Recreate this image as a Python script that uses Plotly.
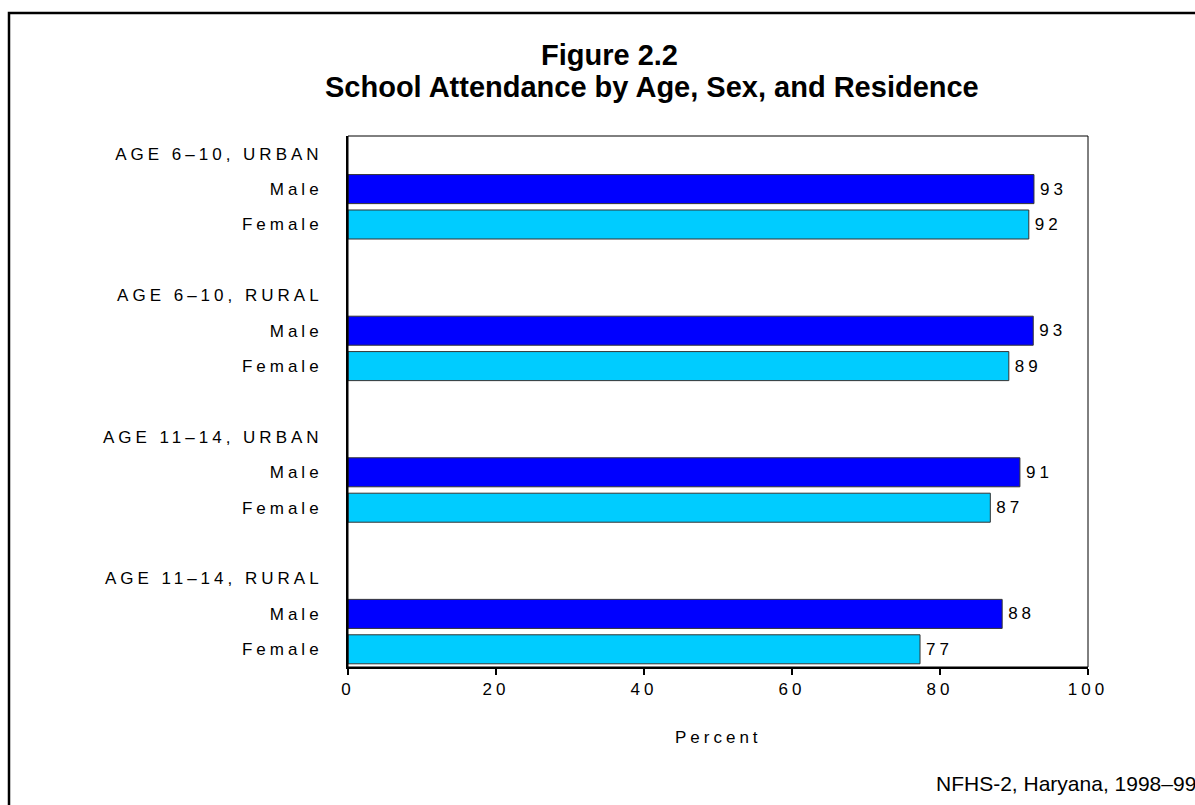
import plotly.graph_objects as go

groups = ["AGE 6–10, URBAN", "AGE 6–10, RURAL", "AGE 11–14, URBAN", "AGE 11–14, RURAL"]
sexes = ["Male", "Female"]
male = [92.7, 92.6, 90.8, 88.4]
female = [92.0, 89.3, 86.8, 77.3]
male_labels = ["93", "93", "91", "88"]
female_labels = ["92", "89", "87", "77"]
x_ticks = [0, 20, 40, 60, 80, 100]

W, H = 1195, 805
L, R, T, B = 348, 1088, 136, 667
pw, ph = R - L, B - T

def px(x):
    return (x - L) / pw

def py(y):
    return (B - y) / ph

FONT = "Liberation Sans, Arial, sans-serif"

# row positions: header, male, female, blank per group
male_pos = [4 * i + 1 for i in range(len(groups))]
female_pos = [4 * i + 2 for i in range(len(groups))]
tickvals, ticktext = [], []
for i, g in enumerate(groups):
    tickvals += [4 * i, 4 * i + 1, 4 * i + 2]
    ticktext += [g, sexes[0], sexes[1]]

fig = go.Figure()
fig.add_trace(go.Bar(
    x=male, y=male_pos, orientation="h", width=0.82,
    marker=dict(color="#0000FF", line=dict(color="#333333", width=1)),
    text=male_labels, textposition="outside", constraintext="none", cliponaxis=False,
    textfont=dict(family=FONT, size=17, color="black"), name="Male", showlegend=False,
))
fig.add_trace(go.Bar(
    x=female, y=female_pos, orientation="h", width=0.82,
    marker=dict(color="#00CCFF", line=dict(color="#333333", width=1)),
    text=female_labels, textposition="outside", constraintext="none", cliponaxis=False,
    textfont=dict(family=FONT, size=17, color="black"), name="Female", showlegend=False,
))

fig.update_layout(
    width=W, height=H,
    margin=dict(l=L, r=W - R, t=T, b=H - B),
    paper_bgcolor="white", plot_bgcolor="white",
    font=dict(family=FONT, size=17, color="black"),
    barmode="overlay",
    xaxis=dict(range=[0, 100], tickvals=x_ticks, ticks="outside", ticklen=6, tickwidth=1.5,
               tickcolor="black", showline=True, linewidth=2, linecolor="black",
               showgrid=False, zeroline=False, tickfont=dict(size=17)),
    yaxis=dict(range=[14.5, -0.5], tickvals=tickvals, ticktext=ticktext, ticks="",
               showline=True, linewidth=2, linecolor="black", showgrid=False, zeroline=False,
               ticklabelstandoff=20, tickfont=dict(size=17)),
    shapes=[
        dict(type="rect", xref="paper", yref="paper", x0=0, x1=1, y0=0, y1=1,
             line=dict(color="black", width=1)),
        dict(type="rect", xref="paper", yref="paper", x0=px(9), x1=px(1210), y0=py(820), y1=py(13),
             line=dict(color="black", width=2.5)),
    ],
    annotations=[
        dict(text="<b>Figure 2.2</b>", xref="paper", yref="paper", x=px(609), y=py(55),
             xanchor="center", yanchor="middle", showarrow=False, font=dict(size=29)),
        dict(text="<b>School Attendance by Age, Sex, and Residence</b>", xref="paper", yref="paper",
             x=px(652), y=py(87), xanchor="center", yanchor="middle", showarrow=False,
             font=dict(size=29)),
        dict(text="Percent", xref="paper", yref="paper", x=0.5, y=py(737),
             xanchor="center", yanchor="middle", showarrow=False, font=dict(size=17)),
        dict(text="NFHS-2, Haryana, 1998–99", xref="paper", yref="paper", x=px(934), y=py(783),
             xanchor="left", yanchor="middle", showarrow=False, font=dict(size=21)),
    ],
)

post = """
var gd = document.getElementById('{plot_id}');
function sp(){
  gd.querySelectorAll('.ytick text, .xtick text').forEach(function(t){ t.style.letterSpacing='4px'; });
  gd.querySelectorAll('text.annotation-text').forEach(function(t){ if (t.textContent === 'Percent') t.style.letterSpacing='4px'; });
  gd.querySelectorAll('text.bartext').forEach(function(t){
    if (t.getAttribute('data-sp')) return;
    var n = t.textContent.length;
    t.style.letterSpacing='4px';
    var x = parseFloat(t.getAttribute('x') || '0');
    t.setAttribute('x', x + n * 2 + 3);
    t.setAttribute('data-sp', '1');
  });
}
sp();
gd.on('plotly_afterplot', sp);
"""

fig.write_html("out.html", post_script=post)
